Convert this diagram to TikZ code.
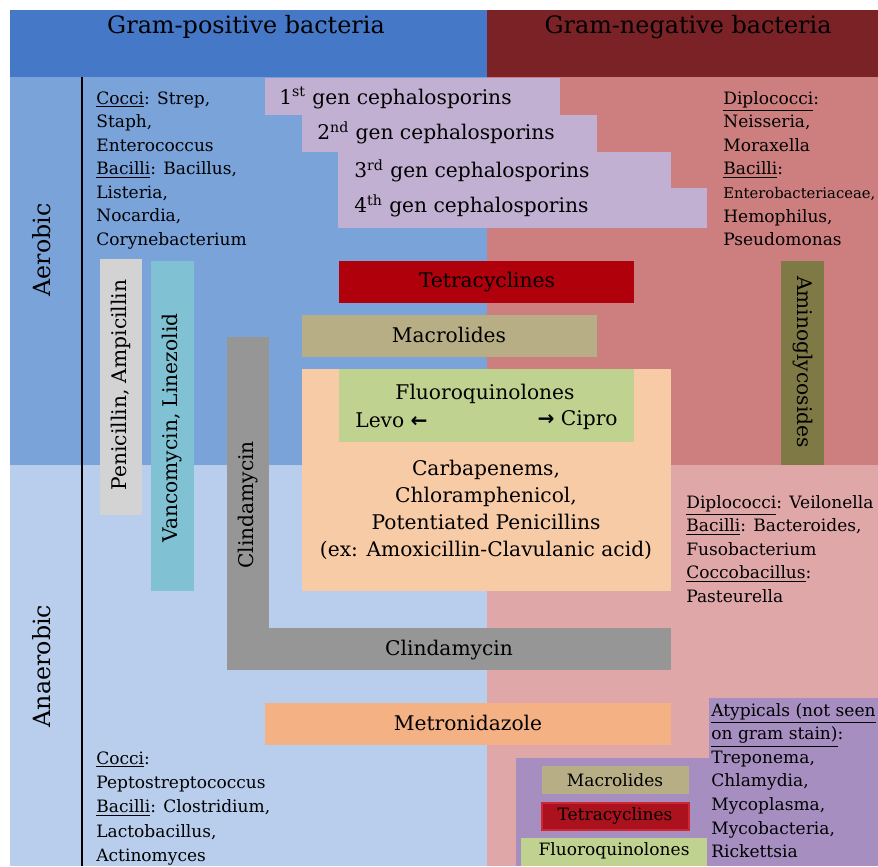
\documentclass[tikz,border=0pt]{standalone}
\usepackage{fontspec}
\setmainfont{DejaVu Serif}
\newfontfamily\arrowfont{DejaVu Sans}
\usepackage{xcolor}
\usetikzlibrary{positioning}

\definecolor{hdrblue}{RGB}{70,120,200}
\definecolor{hdrred}{RGB}{123,34,38}
\definecolor{aeroblue}{RGB}{122,163,218}
\definecolor{aerored}{RGB}{205,127,127}
\definecolor{anablue}{RGB}{185,206,236}
\definecolor{anared}{RGB}{223,167,168}
\definecolor{cephpurple}{RGB}{193,176,210}
\definecolor{pengray}{RGB}{211,211,211}
\definecolor{vancteal}{RGB}{128,193,211}
\definecolor{clindgray}{RGB}{150,150,150}
\definecolor{tetrared}{RGB}{176,0,12}
\definecolor{tetrasmall}{RGB}{172,18,30}
\definecolor{tetraedge}{RGB}{205,40,50}
\definecolor{macrotan}{RGB}{183,174,134}
\definecolor{peach}{RGB}{248,203,167}
\definecolor{fluorogreen}{RGB}{192,210,144}
\definecolor{aminoolive}{RGB}{127,122,69}
\definecolor{metroorange}{RGB}{244,177,131}
\definecolor{atypurple}{RGB}{166,142,192}

\begin{document}
\begin{tikzpicture}[
    x = 0.02cm, y = -0.02cm,
    drug/.style = {inner sep=0pt, align=center, font=\fontsize{11.5}{15.3}\selectfont},
    bug/.style = {inner sep=0pt, anchor=north west, align=left, font=\fontsize{9.7}{13.4}\selectfont},
    head/.style = {inner sep=0pt, font=\fontsize{13.6}{16}\selectfont},
    side/.style = {inner sep=0pt, rotate=90, font=\fontsize{13.5}{16}\selectfont}
]
    \useasboundingbox (0,0) rectangle (878,866);

    % Background
    \fill[hdrblue] (10,10) rectangle (487,77);
    \fill[hdrred] (487,10) rectangle (878,77);
    \fill[aeroblue] (10,77) rectangle (487,465);
    \fill[aerored] (487,77) rectangle (878,465);
    \fill[anablue] (10,465) rectangle (487,866);
    \fill[anared] (487,465) rectangle (878,866);
    \draw[line width=0.8pt] (82,77) -- (82,866);

    % Drug boxes
    \fill[cephpurple] (265,78) rectangle (560,115);
    \fill[cephpurple] (302,115) rectangle (597,152);
    \fill[cephpurple] (338,152) rectangle (671,188);
    \fill[cephpurple] (338,188) rectangle (707,228);
    \fill[pengray] (100,259) rectangle (142,515);
    \fill[vancteal] (151,261) rectangle (194,591);
    \fill[clindgray] (227,337) rectangle (269,670);
    \fill[clindgray] (227,628) rectangle (671,670);
    \fill[tetrared] (339,261) rectangle (634,303);
    \fill[macrotan] (302,315) rectangle (597,357);
    \fill[peach] (302,369) rectangle (671,591);
    \fill[fluorogreen] (339,369) rectangle (634,442);
    \fill[aminoolive] (781,261) rectangle (824,465);
    \fill[metroorange] (265,703) rectangle (671,745);
    \fill[atypurple] (709,698) rectangle (878,866);
    \fill[atypurple] (516,758) rectangle (878,866);
    \fill[macrotan] (542,766) rectangle (689,794);
    \draw[fill=tetrasmall, draw=tetraedge, line width=0.6pt] (542,803) rectangle (689,830);
    \fill[fluorogreen] (521,838) rectangle (707,866);

    % Nodes
    \node (gpos) [head] at (246,27) {Gram-positive bacteria};
    \node (gneg) [head] at (688,27) {Gram-negative bacteria};
    \node (aero) [side] at (42,250) {Aerobic};
    \node (anaero) [side] at (42,666) {Anaerobic};

    \node (aeropos) [bug] at (96,91) {\underline{Cocci}: Strep,\\ Staph,\\ Enterococcus\\ \underline{Bacilli}: Bacillus,\\ Listeria,\\ Nocardia,\\ Corynebacterium};
    \node (aeroneg) [bug] at (723,91) {\underline{Diplococci}:\\ Neisseria,\\ Moraxella\\ \underline{Bacilli}:\\ {\fontsize{8.4}{13.4}\selectfont Enterobacteriaceae,}\\ Hemophilus,\\ Pseudomonas};
    \node (anaeroneg) [bug] at (686,495) {\underline{Diplococci}: Veilonella\\ \underline{Bacilli}: Bacteroides,\\ Fusobacterium\\ \underline{Coccobacillus}:\\ Pasteurella};
    \node (anaeropos) [bug, font=\fontsize{9.7}{13.9}\selectfont] at (96,751) {\underline{Cocci}:\\ Peptostreptococcus\\ \underline{Bacilli}: Clostridium,\\ Lactobacillus,\\ Actinomyces};
    \node (atyp) [bug] at (711,703) {\underline{Atypicals (not seen}\\ \underline{on gram stain)}:\\ Treponema,\\ Chlamydia,\\ Mycoplasma,\\ Mycobacteria,\\ Rickettsia};

    \node (ceph1) [drug, anchor=west] at (279,98) {1\textsuperscript{st} gen cephalosporins};
    \node (ceph2) [drug, anchor=west] at (317,133) {2\textsuperscript{nd} gen cephalosporins};
    \node (ceph3) [drug, anchor=west] at (354,171) {3\textsuperscript{rd} gen cephalosporins};
    \node (ceph4) [drug, anchor=west] at (354,206) {4\textsuperscript{th} gen cephalosporins};

    \node (pen) [drug, rotate=90] at (121,385) {Penicillin, Ampicillin};
    \node (vanc) [drug, rotate=90] at (172,428) {Vancomycin, Linezolid};
    \node (clindv) [drug, rotate=90] at (248,505) {Clindamycin};
    \node (clindh) [drug] at (449,650) {Clindamycin};
    \node (tetra) [drug] at (487,282) {Tetracyclines};
    \node (macro) [drug] at (449,335) {Macrolides};
    \node (fluoro) [drug] at (485,394) {Fluoroquinolones};
    \node (levo) [drug, anchor=west] at (355,420) {Levo {\arrowfont\bfseries ←}};
    \node (cipro) [drug, anchor=east] at (618,420) {{\arrowfont\bfseries →} Cipro};
    \node (carba) [drug] at (486,510) {Carbapenems,\\ Chloramphenicol,\\ Potentiated Penicillins\\ (ex: Amoxicillin-Clavulanic acid)};
    \node (amino) [drug, rotate=-90] at (803,362) {Aminoglycosides};
    \node (metro) [drug] at (468,723) {Metronidazole};

    \node (macro2) [bug, anchor=center] at (615,780) {Macrolides};
    \node (tetra2) [bug, anchor=center] at (615,816) {Tetracyclines};
    \node (fluoro2) [bug, anchor=center] at (614,851) {Fluoroquinolones};

\end{tikzpicture}
\end{document}
